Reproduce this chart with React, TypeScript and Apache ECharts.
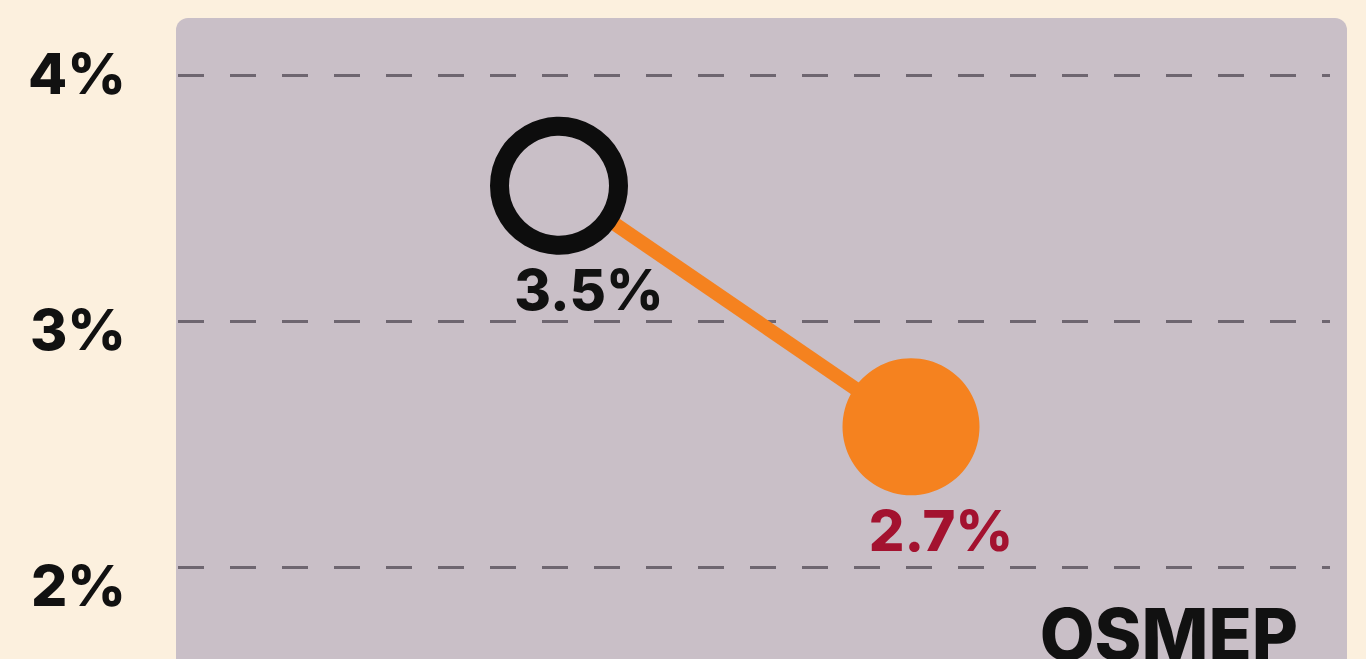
import React, { useEffect, useRef } from "react";
import * as echarts from "echarts";

// Slope between two readings (percent)
const periods = ["Previous", "Latest"];
const values = [3.55, 2.57];
const valueLabels = ["3.5%", "2.7%"];
const tickValues = [2, 3, 4];
const sourceName = "OSMEP";

const BG = "#FCF0DE";
const PANEL = "#C9BFC7";
const ORANGE = "#F5821F";
const DARK_RED = "#A3122F";
const INK = "#111111";
const FONT = "Inter, 'Noto Sans', sans-serif";

export default function App() {
  const ref = useRef<HTMLDivElement>(null);

  useEffect(() => {
    if (!ref.current) return;
    const chart = echarts.init(ref.current, undefined, { renderer: "svg" });
    const yMin = tickValues[0];
    const yMax = tickValues[tickValues.length - 1];

    chart.setOption({
      animation: false,
      backgroundColor: BG,
      graphic: [
        {
          type: "rect",
          z: -10,
          shape: { x: 176, y: 18, width: 1171, height: 720, r: 12 },
          style: { fill: PANEL },
        },
        {
          type: "text",
          z: 10,
          x: 1298,
          y: 634,
          style: {
            text: sourceName,
            fill: INK,
            font: `800 71px ${FONT}`,
            align: "right",
            verticalAlign: "middle",
          },
        },
      ],
      grid: [
        // gridlines
        { left: 178, right: 36, top: 75, bottom: 92 },
        // points
        { left: 383, right: 279, top: 75, bottom: 92 },
        // tick labels
        { left: 140, width: 10, top: 73, bottom: 74 },
      ],
      xAxis: [
        { gridIndex: 0, type: "value", show: false, min: 0, max: 1 },
        {
          gridIndex: 1,
          type: "category",
          data: periods,
          boundaryGap: true,
          show: false,
        },
        { gridIndex: 2, type: "value", show: false, min: 0, max: 1 },
      ],
      yAxis: [
        {
          gridIndex: 0,
          type: "value",
          min: yMin,
          max: yMax,
          interval: 1,
          axisLine: { show: false },
          axisTick: { show: false },
          axisLabel: { show: false },
          splitLine: {
            show: true,
            lineStyle: { color: "#6E6670", width: 3, type: [26, 26] },
          },
        },
        {
          gridIndex: 1,
          type: "value",
          min: yMin,
          max: yMax,
          interval: 1,
          show: false,
          splitLine: { show: false },
        },
        {
          gridIndex: 2,
          type: "value",
          min: yMin,
          max: yMax,
          interval: 1,
          axisLine: { show: false },
          axisTick: { show: false },
          splitLine: { show: false },
          axisLabel: {
            show: true,
            margin: 14,
            formatter: (v: number) => `${v}%`,
            color: INK,
            fontSize: 57,
            fontWeight: 800,
            fontFamily: FONT,
          },
        },
      ],
      series: [
        {
          type: "line",
          xAxisIndex: 1,
          yAxisIndex: 1,
          data: values,
          symbol: "none",
          z: 3,
          lineStyle: { color: ORANGE, width: 14 },
        },
        {
          type: "scatter",
          xAxisIndex: 1,
          yAxisIndex: 1,
          z: 5,
          data: [
            {
              value: [periods[0], values[0]],
              symbolSize: 119,
              itemStyle: {
                color: PANEL,
                borderColor: "#0D0D0D",
                borderWidth: 19,
                opacity: 1,
              },
              label: { color: INK },
            },
            {
              value: [periods[1], values[1]],
              symbolSize: 137,
              itemStyle: { color: ORANGE, borderWidth: 0, opacity: 1 },
              label: { color: DARK_RED },
            },
          ],
          itemStyle: { opacity: 1 },
          emphasis: { disabled: true },
          label: {
            show: true,
            position: "inside",
            offset: [30, 104],
            formatter: (p: any) => valueLabels[p.dataIndex],
            fontSize: 56,
            fontWeight: 800,
            fontFamily: FONT,
          },
        },
      ],
    });

    return () => chart.dispose();
  }, []);

  return (
    <div
      ref={ref}
      style={{
        position: "fixed",
        left: 0,
        top: 0,
        width: 1366,
        height: 659,
        background: BG,
      }}
    />
  );
}
